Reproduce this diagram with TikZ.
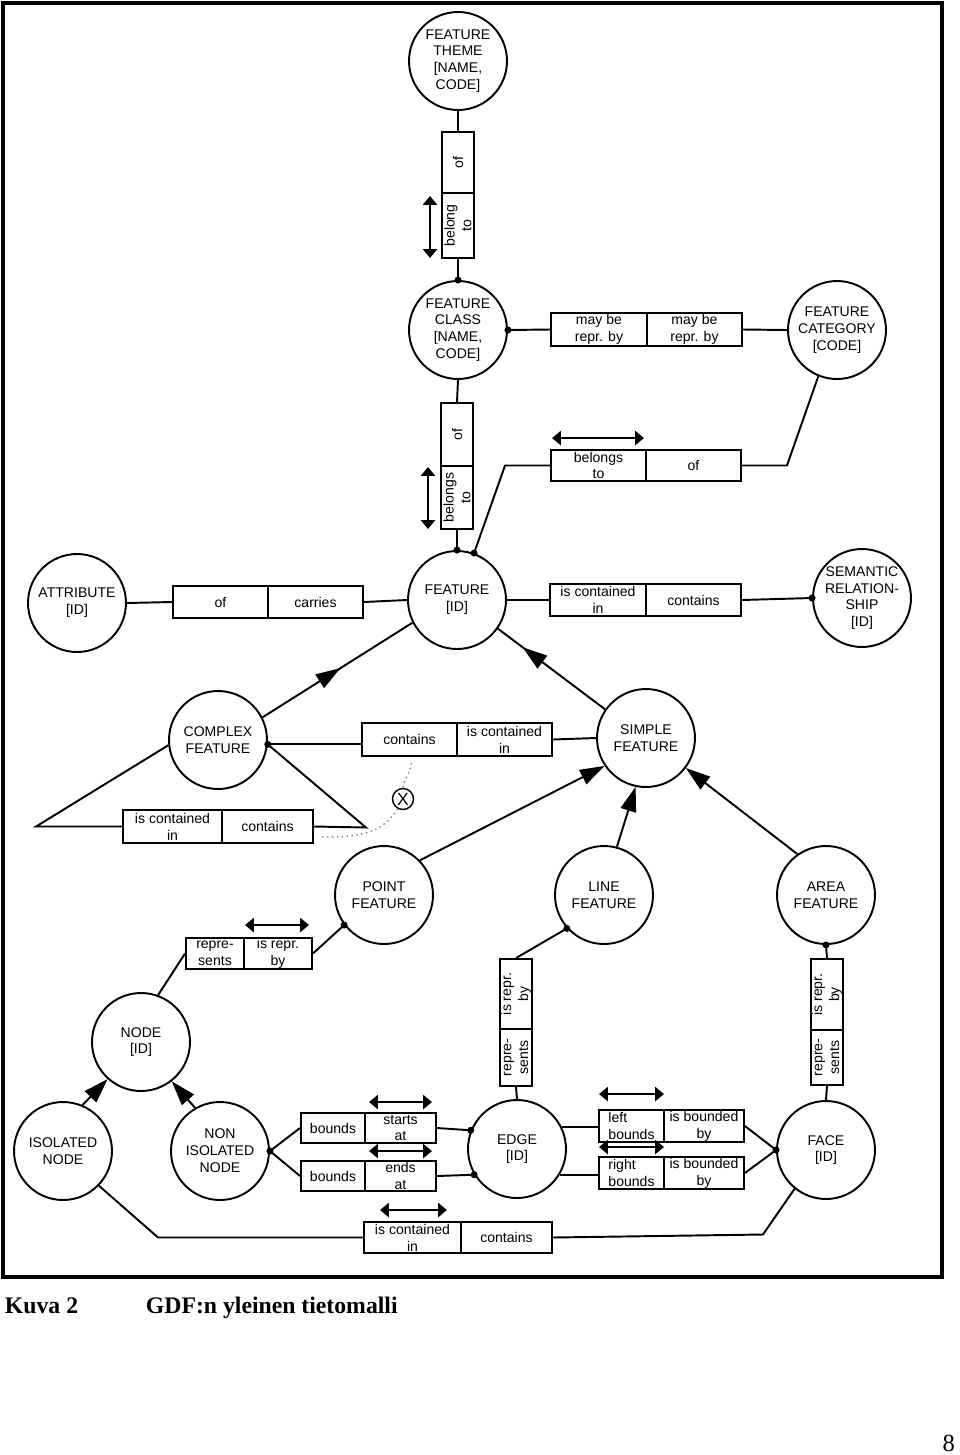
\documentclass[tikz,border=0pt]{standalone}
\usepackage{fontspec}
\setmainfont{Liberation Serif}
\setsansfont{Liberation Sans}
\usepackage{tikz}
\usetikzlibrary{arrows.meta,calc,decorations.markings}

\tikzset{
  entity/.style = {circle, draw, minimum size=1.96cm, inner sep=0pt, align=center},
  cell/.style = {rectangle, draw, inner sep=0pt, align=center, minimum height=0.64cm},
  rdir/.style = {{Triangle[length=5pt,width=8pt]}-{Triangle[length=5pt,width=8pt]}},
  isa/.style = {-{Triangle[length=14pt,width=9pt]}},
  midisa/.style = {postaction={decorate}, decoration={markings, mark=at position #1 with {\arrow{Triangle[length=14pt,width=9pt]}}}}
}

\begin{document}
\begin{tikzpicture}[x=0.02cm, y=-0.02cm, line width=1.1pt, font=\sffamily\fontsize{8}{9.6}\selectfont]
\useasboundingbox (0,0) rectangle (960,1455);
\draw[line width=2pt] (3,3) rectangle (942,1277);

\node[entity] (theme) at (458,61) {FEATURE\\THEME\\{}[NAME,\\CODE]};
\node[entity] (class) at (458,330) {FEATURE\\CLASS\\{}[NAME,\\CODE]};
\node[entity] (cat) at (837,330) {FEATURE\\CATEGORY\\{}[CODE]};
\node[entity] (feat) at (457,600) {FEATURE\\{}[ID]};
\node[entity] (attr) at (77,603) {ATTRIBUTE\\{}[ID]};
\node[entity] (sem) at (862,598) {SEMANTIC\\RELATION-\\SHIP\\{}[ID]};
\node[entity] (cplx) at (218,740) {COMPLEX\\FEATURE};
\node[entity] (simple) at (646,738) {SIMPLE\\FEATURE};
\node[entity] (point) at (384,895) {POINT\\FEATURE};
\node[entity] (line) at (604,895) {LINE\\FEATURE};
\node[entity] (area) at (826,895) {AREA\\FEATURE};
\node[entity] (tnode) at (141,1042) {NODE\\{}[ID]};
\node[entity] (iso) at (63,1151) {ISOLATED\\NODE};
\node[entity] (noniso) at (220,1151) {NON\\ISOLATED\\NODE};
\node[entity] (edge) at (517,1149) {EDGE\\{}[ID]};
\node[entity] (face) at (826,1150) {FACE\\{}[ID]};

\node[cell, rotate=90, minimum width=1.22cm] (tOf) at (458,162.5) {of};
\node[cell, rotate=90, minimum width=1.30cm] (tBel) at (458,225.5) {belong\\to};
\node[cell, rotate=90, minimum width=1.26cm] (cOf) at (457,434.5) {of};
\node[cell, rotate=90, minimum width=1.26cm] (cBel) at (457,497.5) {belongs\\to};
\node[cell, minimum width=1.92cm, minimum height=0.66cm] (mb1) at (599,329.5) {may be\\repr. by};
\node[cell, minimum width=1.90cm, minimum height=0.66cm] (mb2) at (694.5,329.5) {may be\\repr. by};
\node[cell, minimum width=1.90cm, minimum height=0.62cm] (fcBel) at (598.5,465.5) {belongs\\to};
\node[cell, minimum width=1.90cm, minimum height=0.62cm] (fcOf) at (693.5,465.5) {of};
\node[cell, minimum width=1.92cm] (scIn) at (598,600) {is contained\\in};
\node[cell, minimum width=1.90cm] (scCont) at (693.5,600) {contains};
\node[cell, minimum width=1.90cm] (atOf) at (220.5,602) {of};
\node[cell, minimum width=1.90cm] (atCar) at (315.5,602) {carries};
\node[cell, minimum width=1.90cm, minimum height=0.66cm] (csCont) at (409.5,739.5) {contains};
\node[cell, minimum width=1.90cm, minimum height=0.66cm] (csIn) at (504.5,739.5) {is contained\\in};
\node[cell, minimum width=1.98cm, minimum height=0.66cm] (ccIn) at (172.5,826.5) {is contained\\in};
\node[cell, minimum width=1.82cm, minimum height=0.66cm] (ccCont) at (267.5,826.5) {contains};
\node[cell, minimum width=1.16cm, minimum height=0.62cm] (rpRep) at (215,953.5) {repre-\\sents};
\node[cell, minimum width=1.36cm, minimum height=0.62cm] (rpIs) at (278,953.5) {is repr.\\by};
\node[cell, rotate=90, minimum width=1.40cm] (lrIs) at (516,994) {is repr.\\by};
\node[cell, rotate=90, minimum width=1.14cm] (lrRep) at (516,1057.5) {repre-\\sents};
\node[cell, rotate=90, minimum width=1.42cm] (arIs) at (827,994.5) {is repr.\\by};
\node[cell, rotate=90, minimum width=1.10cm] (arRep) at (827,1057.5) {repre-\\sents};
\node[cell, minimum width=1.28cm, minimum height=0.60cm] (bsB) at (333,1128) {bounds};
\node[cell, minimum width=1.42cm, minimum height=0.60cm] (bsS) at (400.5,1128) {starts\\at};
\node[cell, minimum width=1.28cm, minimum height=0.60cm] (beB) at (333,1176) {bounds};
\node[cell, minimum width=1.42cm, minimum height=0.60cm] (beE) at (400.5,1176) {ends\\at};
\node[cell, align=left, minimum width=1.30cm] (lbL) at (631.5,1126) {left\\bounds};
\node[cell, minimum width=1.60cm] (lbB) at (704,1126) {is bounded\\by};
\node[cell, align=left, minimum width=1.30cm] (rbR) at (631.5,1173) {right\\bounds};
\node[cell, minimum width=1.60cm] (rbB) at (704,1173) {is bounded\\by};
\node[cell, minimum width=1.94cm, minimum height=0.62cm] (bcIn) at (412.5,1237.5) {is contained\\in};
\node[cell, minimum width=1.82cm, minimum height=0.62cm] (bcCont) at (506.5,1237.5) {contains};
\node[circle, draw, line width=0.8pt, minimum size=0.42cm, inner sep=0pt, font=\sffamily\fontsize{10}{10}\selectfont] (xcl) at (403,799) {X};

\draw (theme.270) -- (tOf.east);
\draw (tBel.west) -- (class.90);
\draw (class.270) -- (cOf.east);
\draw (cBel.west) -- (feat.90);
\draw (class.0) -- (mb1.west);
\draw (mb2.east) -- (cat.west);
\draw (feat.70) -- ($(fcBel.west)+(-45,0)$) -- (fcBel.west);
\draw (fcOf.east) -- ($(fcOf.east)+(45,0)$) -- (cat.248);
\draw (attr.east) -- (atOf.west);
\draw (atCar.east) -- (feat.west);
\draw (feat.east) -- (scIn.west);
\draw (scCont.east) -- (sem.west);
\draw[midisa=0.52] (cplx.27) -- (feat.207);
\draw[midisa=0.77] (simple.145) -- (feat.325);
\draw (cplx.355) -- (cplx.355 -| csCont.west);
\draw (csIn.east) -- (simple.west);
\draw (cplx.186) -- ($(ccIn.west)+(-86,0)$) -- (ccIn.west);
\draw (ccCont.east) -- ($(ccCont.east)+(52,1)$) -- (cplx.355);
\draw[gray, dotted, line width=0.8pt] ($(csCont.south)+(2,6)$) to[out=-95,in=85] (xcl.north);
\draw[gray, dotted, line width=0.8pt] (xcl.240) to[out=240,in=0] ($(ccCont.south east)+(5,-7)$);
\draw[isa] (point.44) -- (simple.214);
\draw[isa] (line.75) -- (simple.258);
\draw[isa] (area.125) -- (simple.323);
\draw (point.217) -- (rpIs.east);
\draw (rpRep.west) -- (tnode.70);
\draw (line.222) -- (lrIs.east);
\draw (lrRep.west) -- (edge.north);
\draw (area.south) -- (arIs.east);
\draw (arRep.west) -- (face.north);
\draw (noniso.east) -- (bsB.west);
\draw (noniso.east) -- (beB.west);
\draw (bsS.east) -- (edge.158);
\draw (beE.east) -- (edge.211);
\draw (edge.26) -- (edge.26 -| lbL.west);
\draw (edge.329) -- (edge.329 -| rbR.west);
\draw (lbB.east) -- (face.west);
\draw (rbB.east) -- (face.west);
\draw[isa] (iso.67) -- (tnode.228);
\draw[isa] (noniso.120) -- (tnode.308);
\draw (iso.316) -- ($(bcIn.west)+(-205,0)$) -- (bcIn.west);
\draw (bcCont.east) -- ($(bcCont.east)+(210,-3)$) -- (face.231);

\foreach \d in {class.90, feat.90, feat.70, class.0, sem.180, cplx.355, point.217, line.222, area.270, noniso.0, edge.158, edge.211, face.180}
  \fill (\d) circle (2pt);

\draw[rdir] ($(tBel.west)+(-28,-1)$) -- ($(tBel.east)+(-28,4)$);
\draw[rdir] ($(cBel.west)+(-29,-1)$) -- ($(cBel.east)+(-29,2)$);
\draw[rdir] ($(fcBel.north west)+(2,-11)$) -- ($(fcBel.north east)+(-3,-11)$);
\draw[rdir] ($(rpIs.north west)+(2,-12)$) -- ($(rpIs.north east)+(-4,-12)$);
\draw[rdir] ($(bsS.north west)+(5,-10)$) -- ($(bsS.north east)+(-5,-10)$);
\draw[rdir] ($(beE.north west)+(5,-9)$) -- ($(beE.north east)+(-5,-9)$);
\draw[rdir] ($(lbL.north west)+(1,-15)$) -- ($(lbL.north east)+(-1,-15)$);
\draw[rdir] ($(rbR.north west)+(1,-9)$) -- ($(rbR.north east)+(-1,-9)$);
\draw[rdir] ($(bcIn.north west)+(17,-11)$) -- ($(bcIn.north east)+(-15,-11)$);

\node[anchor=base west, inner sep=0pt, font=\rmfamily\bfseries\fontsize{13.5}{16}\selectfont] (kuva) at (4,1313) {Kuva 2};
\node[anchor=base west, inner sep=0pt, font=\rmfamily\bfseries\fontsize{13.5}{16}\selectfont] (title) at (145,1313) {GDF:n yleinen tietomalli};
\node[anchor=base east, inner sep=0pt, font=\rmfamily\fontsize{14}{16}\selectfont] (page) at (956,1451) {8};
\end{tikzpicture}
\end{document}
